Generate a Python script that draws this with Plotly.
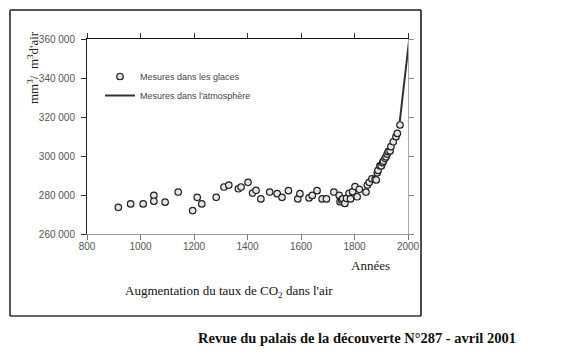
import plotly.graph_objects as go

# Ice-core measurements (year, mm3/m3 of air)
ice_years = [917, 963, 1010, 1050, 1050, 1092, 1141, 1195, 1212, 1229, 1283, 1312, 1330,
             1366, 1376, 1402, 1419, 1432, 1450, 1483, 1511, 1529, 1553, 1588, 1596, 1630,
             1642, 1660, 1679, 1695, 1723, 1743, 1746, 1752, 1756, 1764, 1770, 1780, 1785,
             1793, 1802, 1810, 1818, 1843, 1848, 1855, 1865, 1877, 1881, 1885, 1888, 1895,
             1900, 1905, 1908, 1914, 1918, 1922, 1926, 1933, 1936, 1945, 1955, 1960, 1970]
ice_values = [273700, 275400, 275400, 279800, 276800, 276300, 281500, 272000, 278800, 275400,
              278800, 284100, 285100, 283200, 284100, 286500, 281000, 282400, 278000, 281500,
              280700, 278800, 282200, 278000, 280700, 278500, 279800, 282200, 278000, 278000,
              281500, 279800, 276600, 277400, 278000, 275700, 278300, 280900, 278000, 281700,
              284300, 279100, 282900, 281500, 285100, 286500, 288300, 288000, 287700, 291400,
              292600, 295000, 294900, 296600, 297400, 298800, 299600, 301000, 302200, 302600,
              304800, 307300, 309900, 311600, 315900]

# Atmospheric measurements
atm_years = [1969, 1980, 1990, 2003]
atm_values = [317500, 330000, 342500, 358000]

x_ticks = [800, 1000, 1200, 1400, 1600, 1800, 2000]
y_ticks = [260000, 280000, 300000, 320000, 340000, 360000]

SERIF = "Liberation Serif, Times New Roman, serif"
SANS = "Liberation Sans Narrow, Arial Narrow, Liberation Sans, sans-serif"

# the page body adds an 8px margin, so the figure is 8px smaller and offset
W, H = 573, 354
PL, PT, PW, PH = 79, 31, 321, 195


def px(x):
    return (x - 8 - PL) / PW


def py(y):
    return (PT + PH - (y - 8)) / PH


fig = go.Figure()
fig.add_trace(go.Scatter(
    x=ice_years, y=ice_values, mode="markers", name="Mesures dans les glaces",
    marker=dict(symbol="circle", size=6.5, color="#e6e6e6",
                line=dict(color="#222222", width=1.2)),
))
fig.add_trace(go.Scatter(
    x=atm_years, y=atm_values, mode="lines", name="Mesures dans l'atmosphère",
    line=dict(color="#333333", width=2),
))

tickfont = dict(family=SANS, size=10, color="#555555")

fig.update_layout(
    width=W, height=H,
    margin=dict(l=PL, r=W - PL - PW, t=PT, b=H - PT - PH),
    paper_bgcolor="white", plot_bgcolor="white",
    separators=". ",
    showlegend=True,
    legend=dict(x=px(100), y=py(62), xanchor="left", yanchor="top",
                bgcolor="rgba(0,0,0,0)", font=dict(family=SANS, size=9, color="#444444"),
                tracegroupgap=0, itemwidth=30),
    xaxis=dict(range=[800, 2000], tickvals=x_ticks, ticks="outside", ticklen=5,
               tickcolor="#777777", showline=True, linecolor="#999999", linewidth=1,
               showgrid=False, zeroline=False, tickfont=tickfont, ticklabelstandoff=-2),
    yaxis=dict(range=[260000, 360000], tickvals=y_ticks, tickformat=",d", ticks="outside",
               ticklen=5, tickcolor="#333333", showline=True, linecolor="#222222", linewidth=1,
               showgrid=False, zeroline=False, tickfont=tickfont, ticklabelstandoff=4),
    xaxis2=dict(range=[800, 2000], overlaying="x", side="top", tickvals=x_ticks,
                ticks="outside", ticklen=5, tickcolor="#333333", showticklabels=False,
                showline=True, linecolor="#111111", linewidth=1.2, showgrid=False,
                zeroline=False, anchor="y"),
    yaxis2=dict(range=[260000, 360000], overlaying="y", side="right", tickvals=y_ticks,
                ticks="outside", ticklen=5, tickcolor="#888888", showticklabels=False,
                showline=True, linecolor="#aaaaaa", linewidth=1, showgrid=False,
                zeroline=False, anchor="x"),
)

# invisible trace to activate the mirrored axes
fig.add_trace(go.Scatter(x=[None], y=[None], xaxis="x2", yaxis="y2", showlegend=False,
                         hoverinfo="skip"))

# outer frame (left / top lighter, right / bottom darker like the scan)
L, R, T, B = 10, 421, 10, 316
frame = [((L, T), (R, T), "#555555", 2), ((L, B), (L, T), "#555555", 2),
         ((R, B), (R, T), "#111111", 1.5), ((L, B), (R, B), "#333333", 1.5)]
for (xa, ya), (xb, yb), col, wd in frame:
    fig.add_shape(type="line", xref="paper", yref="paper", layer="above",
                  x0=px(xa), x1=px(xb), y0=py(ya), y1=py(yb),
                  line=dict(color=col, width=wd))

fig.add_annotation(text="mm<sup>3</sup>/  m<sup>3</sup>d'air", xref="paper", yref="paper",
                   x=px(33), y=py(68), xanchor="center", yanchor="middle", showarrow=False,
                   textangle=-90, font=dict(family=SERIF, size=13, color="#222222"))
fig.add_annotation(text="Années", xref="paper", yref="paper",
                   x=px(370), y=py(265), xanchor="center", yanchor="middle", showarrow=False,
                   font=dict(family=SERIF, size=13, color="#222222"))
fig.add_annotation(text="Augmentation du taux de CO<sub>2</sub> dans l'air", xref="paper",
                   yref="paper", x=px(229), y=py(291), xanchor="center", yanchor="middle",
                   showarrow=False, font=dict(family=SERIF, size=13, color="#111111"))
fig.add_annotation(text="<b>Revue du palais de la découverte N°287 - avril 2001</b>",
                   xref="paper", yref="paper", x=px(518), xanchor="right",
                   y=py(338), yanchor="middle", showarrow=False,
                   font=dict(family=SERIF, size=14.5, color="#111111"))

fig.write_html("out.html")
